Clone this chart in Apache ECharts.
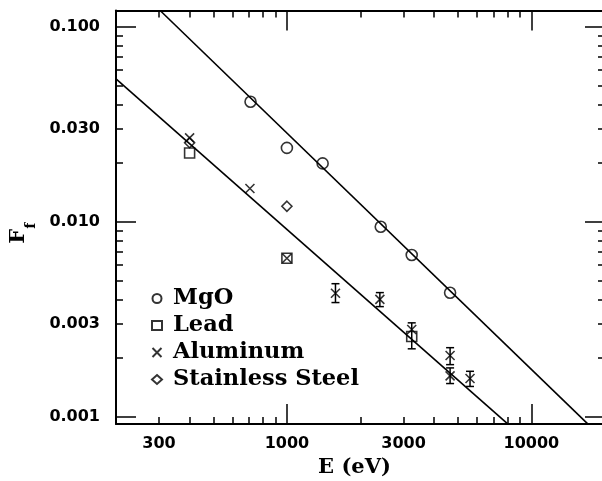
<!DOCTYPE html>
<html><head><meta charset="utf-8">
<script src="https://cdn.jsdelivr.net/npm/echarts@6/dist/echarts.min.js"></script>
<style>html,body{margin:0;padding:0;background:#fff}#c{width:602px;height:481px}</style>
</head><body><div id="c"></div>
<script>
// ---- data ----
const mgoE = [710, 1000, 1400, 2420, 3240, 4650];
const mgoF = [0.0412, 0.0239, 0.0199, 0.00942, 0.00675, 0.00432];
const leadE = [400, 1000, 3240];
const leadF = [0.0225, 0.0065, 0.00258];
const alE = [400, 706, 1000, 1580, 2400, 3240, 4650, 4650, 5610];
const alF = [0.0269, 0.0148, 0.0065, 0.0043, 0.0040, 0.0028, 0.00206, 0.00162, 0.00157];
const ssE = [400, 1000];
const ssF = [0.0254, 0.0120];
const alErrE = [1580, 2400, 3240, 4650, 4650, 5610];
const alErrLo = [0.00385, 0.00367, 0.00223, 0.00185, 0.00148, 0.00143];
const alErrHi = [0.00481, 0.00433, 0.00303, 0.00226, 0.00178, 0.00171];
// fitted lines (end points)
const mgoFitE = [303, 17000];
const mgoFitF = [0.121, 0.00092];
const lowFitE = [200, 8000];
const lowFitF = [0.054, 0.00092];
// axes
const xRange = [200, 20000];
const yRange = [0.000918, 0.121];
const xTickLabels = [300, 1000, 3000, 10000];
const yTickLabels = [0.001, 0.003, 0.010, 0.030, 0.100];
const xMajor = [1000, 10000];
const xMinor = [300, 400, 500, 600, 700, 800, 900, 2000, 3000, 4000, 5000, 6000, 7000, 8000, 9000];
const yMajor = [0.001, 0.01, 0.1];
const yMinor = [0.002, 0.003, 0.004, 0.005, 0.006, 0.007, 0.008, 0.009, 0.02, 0.03, 0.04, 0.05, 0.06, 0.07, 0.08, 0.09];

const L = Math.log10;
const pts = (E, F) => E.map((e, i) => [L(e), L(F[i])]);
const numFont = {fontFamily: 'DejaVu Sans', fontWeight: 'bold', fontSize: 16, color: '#000'};
const serif = 'DejaVu Serif';

function axis(dim, pos, ticks, len, opts) {
  const r = dim === 'x' ? xRange : yRange;
  return Object.assign({
    type: 'value', position: pos, gridIndex: 0,
    min: L(r[0]), max: L(r[1]),
    splitLine: {show: false},
    axisLine: {show: false},
    axisTick: {show: true, inside: true, length: len, customValues: ticks.map(L), lineStyle: {color: '#000', width: 1.5}},
    axisLabel: {show: false}
  }, opts || {});
}
const frameLine = {show: true, lineStyle: {color: '#000', width: 2}};

const option = {
  animation: false,
  backgroundColor: '#fff',
  grid: {left: 116, top: 10.5, width: 489, height: 413.5, outerBoundsMode: 'none', containLabel: false},
  legend: {
    orient: 'vertical', left: 146, top: 282, itemWidth: 10, itemHeight: 9, itemGap: 4,
    textStyle: {fontFamily: serif, fontWeight: 'bold', fontSize: 22.5, lineHeight: 20, color: '#000', padding: [0, 0, 0, 6]},
    data: ['MgO', 'Lead', 'Aluminum', 'Stainless Steel']
  },
  xAxis: [
    axis('x', 'bottom', xMinor, 7, {
      axisLine: frameLine,
      axisLabel: {show: true, customValues: xTickLabels.map(L), margin: 12,
        formatter: v => String(Math.round(Math.pow(10, v))), ...numFont},
      name: 'E (eV)', nameLocation: 'middle', nameGap: 32,
      nameTextStyle: {fontFamily: serif, fontWeight: 'bold', fontSize: 21, color: '#000', padding: [0, 12, 0, 0]}
    }),
    axis('x', 'bottom', xMajor, 20),
    axis('x', 'top', xMinor, 7, {axisLine: frameLine}),
    axis('x', 'top', xMajor, 20)
  ],
  yAxis: [
    axis('y', 'left', yMinor, 7, {
      axisLine: frameLine,
      axisLabel: {show: true, customValues: yTickLabels.map(L), margin: 16,
        formatter: v => Math.pow(10, v).toFixed(3), ...numFont},
      name: '{f|F}{s|f}', nameLocation: 'middle', nameRotate: 90, nameGap: 76,
      nameTextStyle: {padding: [0, 32, 0, 0], rich: {
        f: {fontFamily: serif, fontWeight: 'bold', fontSize: 21, color: '#000', lineHeight: 30, verticalAlign: 'top'},
        s: {fontFamily: serif, fontWeight: 'bold', fontSize: 14, color: '#000', lineHeight: 30, verticalAlign: 'bottom'}
      }}
    }),
    axis('y', 'left', yMajor, 20),
    axis('y', 'right', yMinor, 7, {axisLine: frameLine}),
    axis('y', 'right', yMajor, 20)
  ],
  series: [
    {name: 'MgO fit', type: 'line', data: pts(mgoFitE, mgoFitF), symbol: 'none', lineStyle: {color: '#000', width: 1.6}, silent: true},
    {name: 'low fit', type: 'line', data: pts(lowFitE, lowFitF), symbol: 'none', lineStyle: {color: '#000', width: 1.6}, silent: true},
    {name: 'Al err', type: 'custom', data: alErrE.map((e, i) => [L(e), L(alErrLo[i]), L(alErrHi[i])]),
      encode: {x: 0, y: [1, 2]},
      renderItem: (params, api) => {
        const lo = api.coord([api.value(0), api.value(1)]);
        const hi = api.coord([api.value(0), api.value(2)]);
        const w = 4, st = {stroke: '#000', lineWidth: 1.5};
        return {type: 'group', children: [
          {type: 'line', shape: {x1: lo[0], y1: lo[1], x2: hi[0], y2: hi[1]}, style: st},
          {type: 'line', shape: {x1: lo[0] - w, y1: lo[1], x2: lo[0] + w, y2: lo[1]}, style: st},
          {type: 'line', shape: {x1: hi[0] - w, y1: hi[1], x2: hi[0] + w, y2: hi[1]}, style: st}
        ]};
      }},
    {name: 'MgO', type: 'scatter', data: pts(mgoE, mgoF), symbol: 'circle', symbolSize: 11,
      itemStyle: {color: 'rgba(0,0,0,0)', borderColor: '#000', borderWidth: 1.6}},
    {name: 'Lead', type: 'scatter', data: pts(leadE, leadF), symbol: 'rect', symbolSize: 10,
      itemStyle: {color: 'rgba(0,0,0,0)', borderColor: '#000', borderWidth: 1.6}},
    {name: 'Aluminum', type: 'scatter', data: pts(alE, alF), symbol: 'path://M0,0L10,10M10,0L0,10', symbolSize: 9,
      itemStyle: {color: 'rgba(0,0,0,0)', borderColor: '#000', borderWidth: 1.6}},
    {name: 'Stainless Steel', type: 'scatter', data: pts(ssE, ssF), symbol: 'diamond', symbolSize: 10,
      itemStyle: {color: 'rgba(0,0,0,0)', borderColor: '#000', borderWidth: 1.6}}
  ]
};
const chart = echarts.init(document.getElementById('c'), null, {renderer: 'canvas'});
chart.setOption(option);
</script></body></html>
